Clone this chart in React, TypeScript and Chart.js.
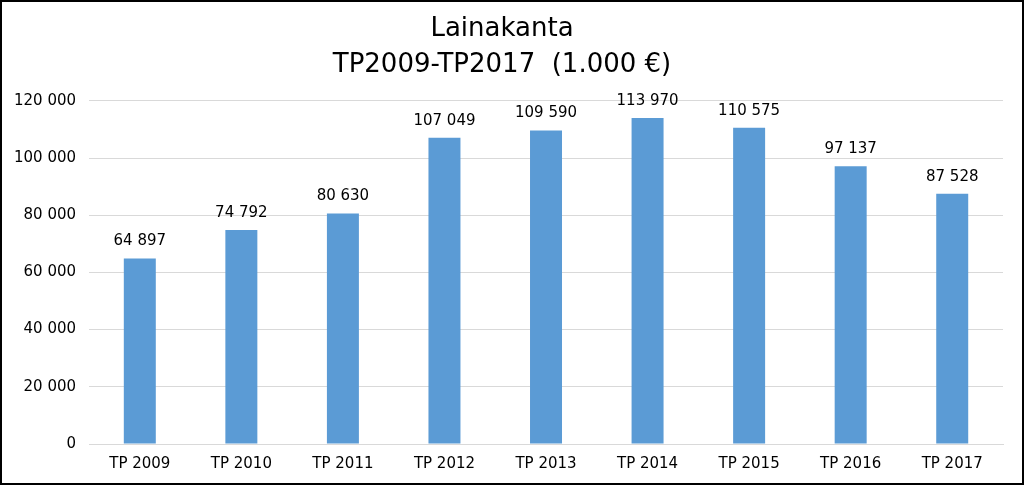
import React, { useEffect, useRef } from "react";
import { Chart, registerables } from "chart.js";

Chart.register(...registerables);

const categories = ["TP 2009", "TP 2010", "TP 2011", "TP 2012", "TP 2013", "TP 2014", "TP 2015", "TP 2016", "TP 2017"];
const values = [64897, 74792, 80630, 107049, 109590, 113970, 110575, 97137, 87528];
const titleLines = ["Lainakanta", "TP2009-TP2017  (1.000 €)"];

const FONT = "'DejaVu Sans', Verdana, sans-serif";

function fmt(v: number): string {
  return String(Math.round(v)).replace(/\B(?=(\d{3})+(?!\d))/g, " ");
}

const labelPlugin = {
  id: "barLabels",
  afterDatasetsDraw(chart: any) {
    const ctx = chart.ctx;
    const meta = chart.getDatasetMeta(0);
    ctx.save();
    ctx.font = `15px ${FONT}`;
    ctx.fillStyle = "#000";
    ctx.textAlign = "center";
    ctx.textBaseline = "middle";
    meta.data.forEach((el: any, i: number) => {
      ctx.fillText(fmt(values[i]), el.x, el.y - 17);
    });
    ctx.restore();
  },
};

export default function App() {
  const ref = useRef<HTMLCanvasElement>(null);
  useEffect(() => {
    document.body.style.margin = "0";
    const chart = new Chart(ref.current!, {
      type: "bar",
      data: {
        labels: categories,
        datasets: [
          {
            data: values,
            backgroundColor: "#5B9BD5",
            categoryPercentage: 1,
            barPercentage: 0.315,
          },
        ],
      },
      options: {
        animation: false,
        responsive: false,
        layout: { padding: { left: 1, right: 21, top: 0, bottom: 9 } },
        plugins: {
          legend: { display: false },
          tooltip: { enabled: false },
          title: {
            display: true,
            text: titleLines,
            color: "#000",
            font: { family: FONT, size: 26, weight: "normal", lineHeight: 1.4 },
            padding: { top: 11, bottom: 17 },
          },
        },
        scales: {
          x: {
            grid: { display: false },
            border: { color: "#d9d9d9" },
            ticks: { color: "#000", font: { family: FONT, size: 15 }, padding: 3 },
          },
          y: {
            min: 0,
            max: 120000,
            ticks: {
              stepSize: 20000,
              color: "#000",
              font: { family: FONT, size: 15 },
              padding: 13,
              callback: (v: any) => fmt(Number(v)),
            },
            grid: { color: "#d9d9d9", drawTicks: false },
            border: { display: false },
          },
        },
      },
      plugins: [labelPlugin],
    });
    return () => chart.destroy();
  }, []);
  return (
    <div style={{ position: "relative", width: 1024, height: 485 }}>
      <canvas ref={ref} width={1024} height={485} style={{ position: "absolute", left: 0, top: 0 }} />
      <div
        style={{
          position: "absolute",
          left: 0,
          top: 0,
          width: 1024,
          height: 485,
          boxSizing: "border-box",
          border: "2px solid #000",
          pointerEvents: "none",
        }}
      />
    </div>
  );
}
